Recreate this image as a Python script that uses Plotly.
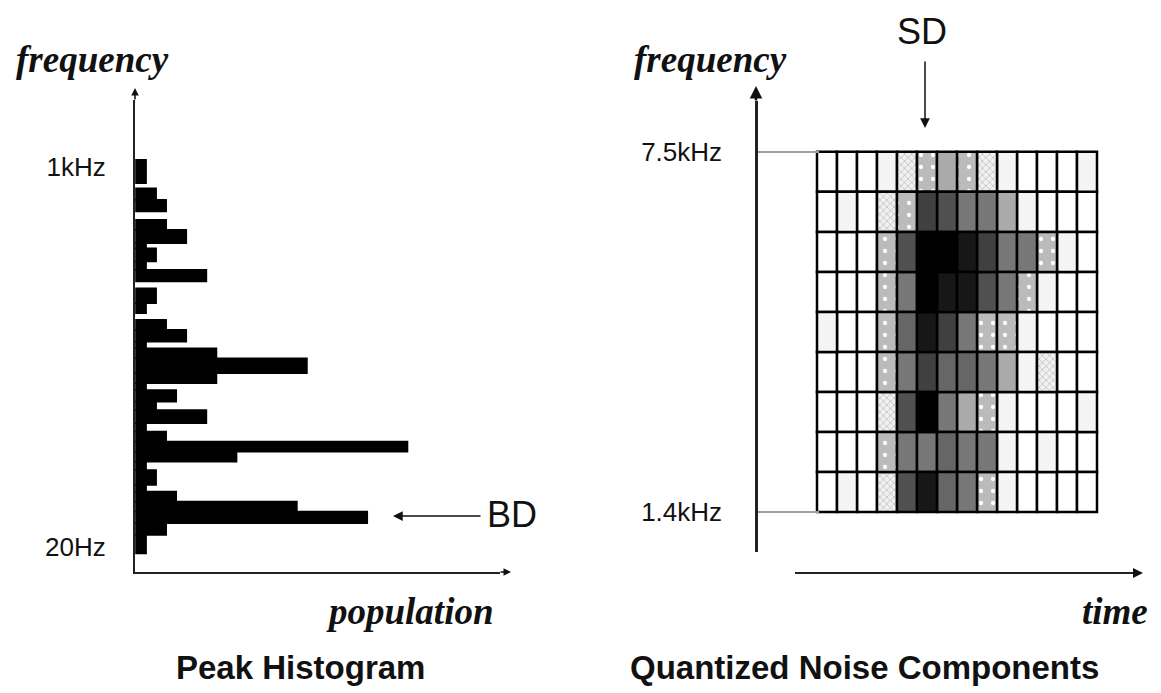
import plotly.graph_objects as go

W, H = 1161, 693

# ---------------- Peak histogram data (bottom band first) ----------------
# band boundaries along the frequency axis (low -> high) and peak counts per band
band_edges = [0, 11, 18, 25, 31, 37, 41, 50, 55, 61, 67, 73, 78, 86, 91, 98, 102,
              108, 117, 123, 127, 134, 140, 144, 150, 159, 163, 170, 175, 183, 186,
              194, 200, 205, 212, 219, 222, 236]
population = [1, 3, 23, 16, 4, 1, 2, 1, 10, 27, 3, 1, 7, 2, 4, 1,
              8, 17, 8, 1, 5, 3, 0, 1, 2, 0, 7, 1, 2, 1, 5,
              3, 0, 3, 2, 0, 1]
hist_tick_vals = [4, 232]
hist_tick_text = ["20Hz", "1kHz"]

# ---------------- Quantized noise grid (top row = 7.5kHz side) ----------------
noise_levels = [
    [0, 0, 0, 1, 2, 3, 4, 3, 2, 1, 0, 0, 0, 1],
    [0, 1, 0, 2, 3, 8, 7, 5, 5, 4, 1, 0, 0, 0],
    [0, 0, 0, 3, 7, 10, 10, 9, 8, 5, 5, 3, 1, 0],
    [0, 0, 0, 3, 5, 10, 9, 9, 7, 5, 3, 1, 0, 0],
    [1, 0, 0, 3, 6, 9, 8, 5, 3, 3, 1, 0, 0, 0],
    [0, 0, 0, 3, 5, 8, 6, 6, 5, 4, 1, 2, 0, 0],
    [0, 0, 0, 2, 7, 10, 5, 4, 3, 1, 0, 0, 0, 1],
    [0, 0, 0, 3, 5, 5, 6, 5, 5, 1, 0, 1, 0, 0],
    [0, 1, 0, 2, 7, 9, 6, 5, 3, 1, 0, 0, 0, 0],
]
grid_tick_vals = [0, 9]
grid_tick_text = ["1.4kHz", "7.5kHz"]

# fill style for each quantization level: (background, pattern, pattern colour, size, solidity)
level_style = {
    0: ("#ffffff", "", None, 8, 0.3),
    1: ("#f4f4f4", "", None, 8, 0.3),
    2: ("#f0f0f0", "x", "#b0b0b0", 5, 0.22),
    3: ("#bbbbbb", ".", "#ffffff", 12, 0.1),
    4: ("#aaaaaa", "", None, 8, 0.3),
    5: ("#777777", "", None, 8, 0.3),
    6: ("#666666", "", None, 8, 0.3),
    7: ("#505050", "", None, 8, 0.3),
    8: ("#404040", "", None, 8, 0.3),
    9: ("#171717", "", None, 8, 0.3),
    10: ("#000000", "", None, 8, 0.3),
}


def px(x):
    return x / W


def py(y):
    return 1 - y / H


fig = go.Figure()

# histogram bars (horizontal, one per non-empty band)
hist_x, hist_y, hist_w = [], [], []
for lo, hi, n in zip(band_edges[:-1], band_edges[1:], population):
    if n > 0:
        hist_x.append(n)
        hist_y.append((lo + hi) / 2)
        hist_w.append(hi - lo)
fig.add_trace(go.Bar(
    x=hist_x, y=hist_y, width=hist_w, orientation="h",
    marker=dict(color="black", line=dict(color="black", width=1.6)),
    xaxis="x", yaxis="y", showlegend=False, hoverinfo="skip",
))

# noise grid cells, one trace per quantization level
n_rows = len(noise_levels)
for lvl, (bg, shape, fg, size, sol) in level_style.items():
    xs, bases = [], []
    for i, row in enumerate(noise_levels):
        for c, v in enumerate(row):
            if v == lvl:
                xs.append(c)
                bases.append(n_rows - 1 - i)
    if not xs:
        continue
    pattern = dict(shape=shape, bgcolor=bg, size=size, solidity=sol, fillmode="replace")
    if fg:
        pattern["fgcolor"] = fg
    fig.add_trace(go.Bar(
        x=xs, y=[1] * len(xs), base=bases, width=1,
        marker=dict(color=bg, line=dict(color="black", width=2.5), pattern=pattern),
        xaxis="x2", yaxis="y2", showlegend=False, hoverinfo="skip",
    ))

label_font = dict(family="Liberation Sans, Arial, sans-serif", size=26, color="#111")
axis_word = dict(family="Liberation Serif, Times New Roman, serif", size=37,
                 color="#111", style="italic", weight="bold")
big_font = dict(family="Liberation Sans, Arial, sans-serif", size=36, color="#111")
title_font = dict(family="Liberation Sans, Arial, sans-serif", size=33,
                  color="#111", weight="bold")

fig.update_layout(
    width=W, height=H,
    margin=dict(l=0, r=0, t=0, b=0),
    paper_bgcolor="white", plot_bgcolor="rgba(0,0,0,0)",
    barmode="overlay", showlegend=False,
    xaxis=dict(domain=[px(135), px(500)], range=[-0.1, 36.2],
               showline=True, linecolor="#222", linewidth=2,
               showgrid=False, zeroline=False, showticklabels=False, ticks=""),
    yaxis=dict(domain=[py(572), py(100)], range=[-11.2, 271.9],
               showline=True, linecolor="#222", linewidth=2,
               showgrid=False, zeroline=False, ticks="",
               tickvals=hist_tick_vals, ticktext=hist_tick_text,
               tickfont=label_font, ticklabelstandoff=22),
    xaxis2=dict(domain=[px(795), px(1134)], range=[-1.6, 15.35],
                anchor="free", position=py(573),
                showline=True, linecolor="#222", linewidth=2,
                showgrid=False, zeroline=False, showticklabels=False, ticks=""),
    yaxis2=dict(domain=[py(552), py(101)], range=[-0.997, 10.27],
                anchor="free", position=px(756),
                showline=True, linecolor="#222", linewidth=2.5,
                showgrid=False, zeroline=False,
                ticks="inside", ticklen=61, tickwidth=2, tickcolor="#a0a0a0",
                tickvals=grid_tick_vals, ticktext=grid_tick_text,
                tickfont=label_font, ticklabelstandoff=28),
)


def arrow(x0, y0, x1, y1, width=1.5, head=2, size=1.0):
    # arrow drawn from pixel point (x0, y0) to tip (x1, y1)
    fig.add_annotation(x=px(x1), y=py(y1), ax=x0 - x1, ay=y0 - y1,
                       xref="paper", yref="paper", axref="pixel", ayref="pixel",
                       text="", showarrow=True, arrowhead=head, arrowsize=size,
                       arrowwidth=width, arrowcolor="#111")


def label(x, y, text, font):
    fig.add_annotation(x=px(x), y=py(y), xref="paper", yref="paper", text=text,
                       showarrow=False, font=font, xanchor="center", yanchor="middle")


# axis arrowheads
arrow(135, 101, 135, 88, width=1.5, head=2)
arrow(499, 572, 511, 572, width=1.5, head=2)
arrow(756, 102, 756, 86, width=2.5, head=2)
arrow(1132, 573, 1143, 573, width=2, head=2)

# pointers to the drum components
arrow(482, 516, 393, 516, width=1.5, head=2, size=1.3)
arrow(925, 60, 925, 128, width=1.5, head=2, size=1.3)

label(512, 514, "BD", big_font)
label(922, 31, "SD", big_font)

label(92, 60, "frequency", axis_word)
label(710, 60, "frequency", axis_word)
label(410, 611, "population", axis_word)
label(1115, 611, "time", axis_word)

label(300, 667, "Peak Histogram", title_font)
label(864, 667, "Quantized Noise Components", title_font)

fig.write_html("out.html")
